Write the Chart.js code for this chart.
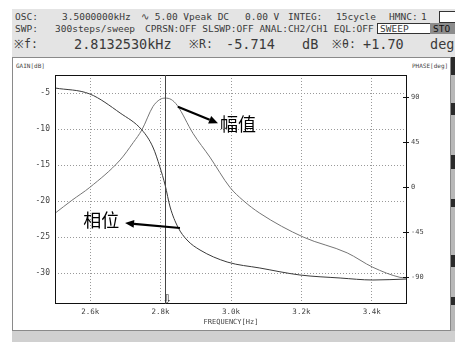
<!DOCTYPE html>
<html lang="zh">
<head>
<meta charset="UTF-8">
<title>频率特性</title>
<script src="https://cdn.jsdelivr.net/npm/chart.js"></script>
<style>
  body { margin:0; width:455px; height:342px; position:relative; overflow:hidden; background:#fff;
         font-family:"DejaVu Sans Mono", monospace; color:#3a3a3a; }
  .hdr { position:absolute; left:12px; top:9px; width:443px; height:48px; background:#e4e4e4; }
  .t { position:absolute; white-space:pre; line-height:1; }
  .s { font-size:9.5px; }
  .b { font-size:13.5px; }
  .k { font-size:11.5px; }
  .box { position:absolute; border:1px solid #333; background:#fff; }
  .panel { position:absolute; left:12px; top:57px; width:437px; height:272px; background:#fff;
           border-style:solid; border-color:#8a8a8a; border-width:1px 2px 2px 1px; }
  .foot { position:absolute; left:12px; top:331px; width:443px; height:11px; background:#d0d0d0; }
  .side { position:absolute; left:451px; top:57px; width:4px; height:274px; background:#2a2a2a; }
  .side div { position:absolute; left:0; width:4px; background:#b8b8b8; }
  .lbl { position:absolute; font-size:6px; color:#444; white-space:pre; }
  canvas { position:absolute; left:0; top:0; }
</style>
</head>
<body>
<div class="hdr"></div>
<span class="t s" style="left:15px;top:12px">OSC:</span>
<span class="t s" style="left:62px;top:12px">3.5000000kHz</span>
<span class="t s" style="left:141px;top:12px">∿ 5.00 Vpeak DC</span>
<span class="t s" style="left:245px;top:12px">0.00 V</span>
<span class="t s" style="left:288px;top:12px">INTEG:</span>
<span class="t s" style="left:336px;top:12px">15cycle</span>
<span class="t s" style="left:389px;top:12px">HMNC:</span>
<span class="t s" style="left:421px;top:12px">1</span>
<div class="box" style="left:439px;top:11px;width:16px;height:10px"></div>
<span class="t s" style="left:15px;top:24px">SWP:</span>
<span class="t s" style="left:55px;top:24px">300steps/sweep</span>
<span class="t s" style="left:145px;top:24px">CPRSN:OFF SLSWP:OFF ANAL:CH2/CH1 EQL:OFF</span>
<div class="box" style="left:377px;top:23px;width:52px;height:9px"></div>
<span class="t s" style="left:380px;top:24px">SWEEP</span>
<div style="position:absolute;left:430px;top:23px;width:25px;height:11px;background:#8c8c8c"></div>
<span class="t s" style="left:433px;top:24px;color:#111">STO</span>
<span class="t k" style="left:14px;top:39px">※f:</span>
<span class="t b" style="left:74px;top:38px">2.8132530kHz</span>
<span class="t k" style="left:189px;top:39px">※R:</span>
<span class="t b" style="left:226px;top:38px">-5.714</span>
<span class="t b" style="left:302px;top:38px">dB</span>
<span class="t k" style="left:332px;top:39px">※θ:</span>
<span class="t b" style="left:363px;top:38px">+1.70</span>
<span class="t b" style="left:430px;top:38px">deg</span>

<div class="panel"></div>
<div class="foot"></div>
<div class="side">
  <div style="top:18px;height:28px"></div>
  <div style="top:58px;height:40px"></div>
  <div style="top:112px;height:30px"></div>
  <div style="top:150px;height:48px"></div>
  <div style="top:210px;height:30px"></div>
  <div style="top:248px;height:26px"></div>
</div>
<span class="lbl" style="left:16px;top:62px">GAIN[dB]</span>
<span class="lbl" style="left:412px;top:62px">PHASE[deg]</span>

<canvas id="bode" width="455" height="342"></canvas>

<script>
// frequency in kHz
const gainFreq = [2.500, 2.548, 2.599, 2.685, 2.722, 2.747, 2.778, 2.798, 2.813, 2.830, 2.847,
                  2.892, 2.940, 2.997, 3.034, 3.082, 3.205, 3.330, 3.403, 3.480, 3.500];
const gainDb   = [-21.7, -19.9, -18.1, -14.3, -11.9, -10.1, -6.9, -5.9, -5.71, -5.9, -6.7,
                  -10.6, -13.9, -18.1, -19.9, -21.7, -25.0, -27.2, -29.2, -30.6, -30.7];

const phaseFreq = [2.500, 2.599, 2.685, 2.747, 2.778, 2.798, 2.813, 2.827, 2.849, 2.875,
                   2.912, 2.989, 3.082, 3.196, 3.310, 3.403, 3.500];
const phaseDeg  = [99, 93, 74, 57, 40, 20, 1.7, -20, -40, -53,
                   -63, -75, -81, -88, -91, -93, -92];

const freqTicks  = [2.6, 2.8, 3.0, 3.2, 3.4];
const freqLabels = ['2.6k', '2.8k', '3.0k', '3.2k', '3.4k'];
const gainTicks  = [-5, -10, -15, -20, -25, -30];
const phaseTicks = [90, 45, 0, -45, -90];

const cursorFreq = 2.8132530;

const notes = [
  { text: '幅值', at: [2.969, -9.3],  from: [2.849, -6.9],  to: [2.963, -9.2] },
  { text: '相位', at: [2.580, -22.6], from: [2.855, -23.75], to: [2.699, -23.06] }
];

function arrow(ctx, x1, y1, x2, y2) {
  const ang = Math.atan2(y2 - y1, x2 - x1);
  const hl = 9, hw = 4;
  const bx = x2 - hl * Math.cos(ang), by = y2 - hl * Math.sin(ang);
  ctx.beginPath();
  ctx.moveTo(x1, y1);
  ctx.lineTo(bx, by);
  ctx.stroke();
  ctx.beginPath();
  ctx.moveTo(x2, y2);
  ctx.lineTo(bx + hw * Math.sin(ang), by - hw * Math.cos(ang));
  ctx.lineTo(bx - hw * Math.sin(ang), by + hw * Math.cos(ang));
  ctx.closePath();
  ctx.fill();
}

const overlay = {
  id: 'overlay',
  afterDatasetsDraw(chart) {
    const { ctx, chartArea: a, scales: { x, y, y2 } } = chart;
    ctx.save();
    // plot frame
    ctx.strokeStyle = '#111';
    ctx.lineWidth = 1;
    ctx.strokeRect(a.left + 0.5, a.top + 0.5, a.right - a.left - 1, a.bottom - a.top - 1);
    // phase ticks
    phaseTicks.forEach(v => {
      const py = Math.round(y2.getPixelForValue(v)) + 0.5;
      ctx.beginPath();
      ctx.moveTo(a.right - 4, py);
      ctx.lineTo(a.right + 2, py);
      ctx.stroke();
    });
    // cursor
    const cx = Math.round(x.getPixelForValue(cursorFreq)) + 0.5;
    ctx.strokeStyle = '#444';
    ctx.beginPath();
    ctx.moveTo(cx, a.top);
    ctx.lineTo(cx, a.bottom);
    ctx.stroke();
    ctx.fillStyle = '#333';
    ctx.font = '12px "DejaVu Sans"';
    ctx.textAlign = 'center';
    ctx.textBaseline = 'alphabetic';
    ctx.fillText('⇩', cx + 2, a.bottom - 1);
    // annotations
    ctx.strokeStyle = '#000';
    ctx.fillStyle = '#000';
    ctx.lineWidth = 2.2;
    notes.forEach(n => {
      arrow(ctx, x.getPixelForValue(n.from[0]), y.getPixelForValue(n.from[1]),
                 x.getPixelForValue(n.to[0]), y.getPixelForValue(n.to[1]));
      ctx.font = '18px "Noto Sans CJK SC"';
      ctx.textAlign = 'left';
      ctx.textBaseline = 'middle';
      ctx.fillText(n.text, x.getPixelForValue(n.at[0]), y.getPixelForValue(n.at[1]));
    });
    // axis title
    ctx.fillStyle = '#444';
    ctx.font = '7px "DejaVu Sans Mono"';
    ctx.textAlign = 'center';
    ctx.fillText('FREQUENCY[Hz]', (a.left + a.right) / 2, 322);
    ctx.restore();
  }
};

const tickFont = { family: 'DejaVu Sans Mono', size: 8 };

new Chart(document.getElementById('bode').getContext('2d'), {
  type: 'line',
  data: {
    datasets: [
      {
        label: 'gain',
        data: gainFreq.map((f, i) => ({ x: f, y: gainDb[i] })),
        yAxisID: 'y',
        borderColor: '#757575',
        borderWidth: 1,
        pointRadius: 0,
        cubicInterpolationMode: 'monotone'
      },
      {
        label: 'phase',
        data: phaseFreq.map((f, i) => ({ x: f, y: phaseDeg[i] })),
        yAxisID: 'y2',
        borderColor: '#3a3a3a',
        borderWidth: 1,
        pointRadius: 0,
        cubicInterpolationMode: 'monotone'
      }
    ]
  },
  options: {
    responsive: false,
    animation: false,
    layout: { padding: { top: 75, left: 0, right: 0, bottom: 0 } },
    plugins: { legend: { display: false }, tooltip: { enabled: false } },
    scales: {
      x: {
        type: 'linear',
        min: 2.5, max: 3.5,
        afterBuildTicks: s => { s.ticks = freqTicks.map(v => ({ value: v })); },
        afterFit: s => { s.height = 38; },
        ticks: {
          callback: v => freqLabels[freqTicks.indexOf(v)],
          font: { family: 'DejaVu Sans Mono', size: 7.5 },
          color: '#444',
          padding: 4,
          maxRotation: 0
        },
        grid: { color: '#999', drawTicks: false },
        border: { display: false, dash: [1, 2] }
      },
      y: {
        position: 'left',
        min: -34.3, max: -2.5,
        afterBuildTicks: s => { s.ticks = gainTicks.map(v => ({ value: v })); },
        afterFit: s => { s.width = 55; },
        ticks: { font: tickFont, color: '#444', padding: 5 },
        grid: { color: '#999', drawTicks: false },
        border: { display: false, dash: [1, 2] }
      },
      y2: {
        position: 'right',
        min: -117, max: 112,
        afterBuildTicks: s => { s.ticks = phaseTicks.map(v => ({ value: v })); },
        afterFit: s => { s.width = 48; },
        ticks: { font: { family: 'DejaVu Sans Mono', size: 7 }, color: '#444', padding: 4 },
        grid: { drawOnChartArea: false, drawTicks: false },
        border: { display: false }
      }
    }
  },
  plugins: [overlay]
});
</script>
</body>
</html>
